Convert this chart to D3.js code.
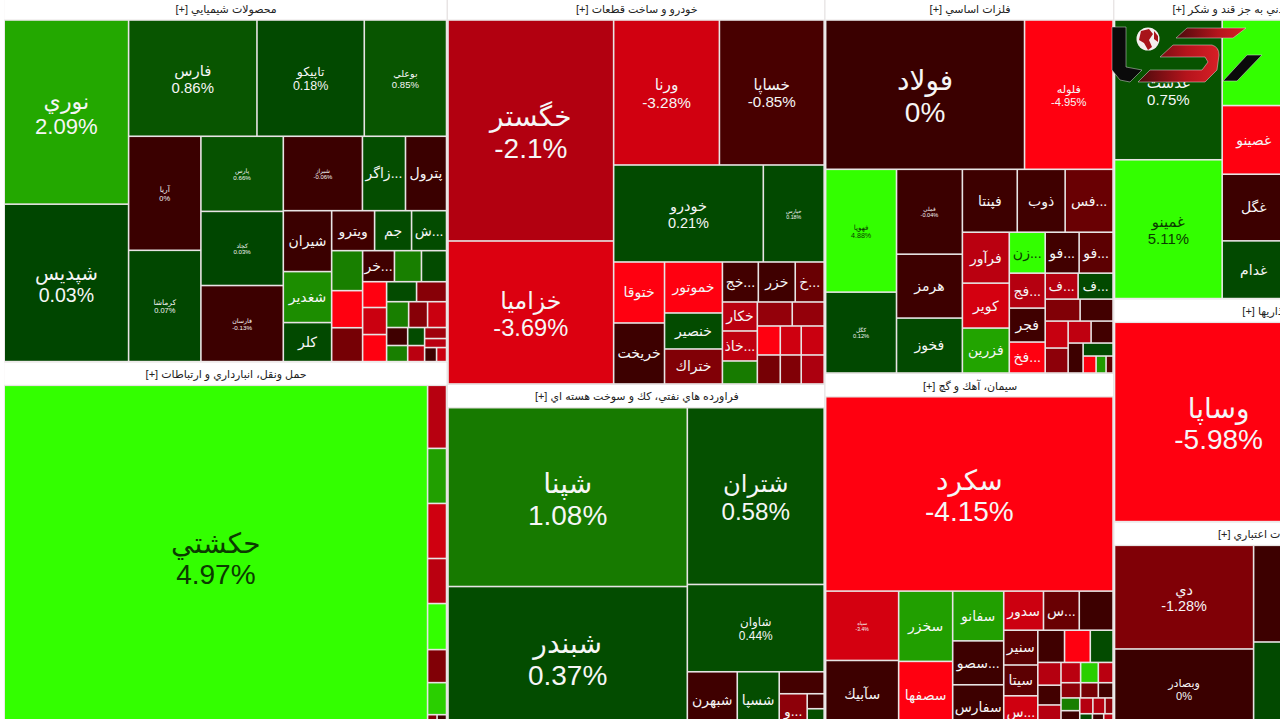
<!DOCTYPE html>
<html>
<head>
<meta charset="utf-8">
<script src="https://cdn.jsdelivr.net/npm/d3@7"></script>
<style>
  html, body { margin: 0; padding: 0; background: #fff; overflow: hidden; }
  text { font-family: "Liberation Sans", "DejaVu Sans", sans-serif; }
</style>
</head>
<body>
<svg id="map"></svg>
<script>
// c = one stock: name, change %, size
const c = (name, pct, value) => ({name, pct, value});

const sectorTitles = [
  "محصولات شيميايي [+]",
  "حمل ونقل، انبارداري و ارتباطات [+]",
  "خودرو و ساخت قطعات [+]",
  "فراورده هاي نفتي، كك و سوخت هسته اي [+]",
  "فلزات اساسي [+]",
  "سيمان، آهك و گچ [+]",
  "محصولات غذايي و آشاميدني به جز قند و شكر [+]",
  "سرمايه گذاريها [+]",
  "بانكها و موسسات اعتباري [+]"
];

// which sectors stand in which column of the map
const columnSectors = [[0, 1], [2, 3], [4, 5], [6, 7, 8]];

// nested lists split across, then down, then across...
const chemicals = [
  [c("نوري", 2.09, 22950), c("شپديس", 0.03, 19620)],
  [
    [c("فارس", 0.86, 14950), c("تاپيكو", 0.18, 12500), c("بوعلي", 0.85, 9580)],
    [
      [c("آريا", 0, 8260), c("كرماشا", 0.07, 8060)],
      [c("پارس", 0.66, 6200), c("كچاد", 0.03, 6120), c("فارسان", -0.13, 6280)],
      [
        [c("شيراز", -0.06, 5900), c("زاگر...", 0.4, 3210), c("پترول", 0, 3060)],
        [
          [c("شيران", 0, 2950), c("شغدير", 1.5, 2470), c("كلر", 0.2, 1890)],
          [
            [c("ويترو", -0.3, 1720), c("جم", 0.3, 1480), c("ش...", 0.3, 1400)],
            [
              [c("", 1.2, 1240), c("", -4.6, 1150), c("", -1.2, 1050)],
              [
                [c("خر...", -0.3, 990), c("", 1.2, 840), c("", 0.3, 780)],
                [
                  [c("", -4.6, 620), c("", -3, 650), c("", -4.6, 650)],
                  [
                    [c("", 0.3, 600), c("", -1.4, 600)],
                    [c("", 1.2, 570), c("", -1.4, 490), c("", -3, 490)],
                    [
                      [c("", -0.3, 380), c("", 1.2, 340)],
                      [c("", 0.3, 306), c("", -2.4, 272)],
                      [c("", -1.8, 242), c("", -2.4, 198), [c("", -0.3, 168), c("", -3, 140)]]
                    ]
                  ]
                ]
              ]
            ]
          ]
        ]
      ]
    ]
  ]
];

const transport = [
  c("حكشتي", 4.97, 145650),
  [
    c("", -2.3, 1197), c("", 1.9, 1045), c("", -3.2, 1045), c("", -2.4, 855),
    c("", 4.9, 874), c("", -1.3, 627), c("", 3.3, 608),
    [c("", -1.3, 133), c("", -0.2, 133)]
  ]
];

const automotive = [
  [c("خگستر", -2.1, 36686), c("خزاميا", -3.69, 23738)],
  [
    [c("ورنا", -3.28, 15370), c("خساپا", -0.85, 15225)],
    [c("خودرو", 0.21, 14550), c("خپارس", 0.18, 5917)],
    [
      [c("ختوقا", -4.6, 3111), c("خريخت", -0.2, 3111)],
      [c("خموتور", -4.4, 2958), c("خنصير", 0.3, 2088), c("ختراك", -1.3, 2030)],
      [
        [c("خج...", -0.5, 1440), c("خزر", -0.3, 1480), c("خ...", -1.1, 1160)],
        [
          [c("خكار", -2.4, 1015), c("خاذ...", -2.6, 1050), c("", 1.1, 805)],
          [
            [c("", -1.6, 840), c("", -1.6, 768)],
            [c("", -4.6, 667), c("", -3.2, 609), c("", -3, 667)],
            [c("", -1.2, 667), c("", -1.3, 609), c("", -2, 667)]
          ]
        ]
      ]
    ]
  ]
];

const oilProducts = [
  [c("شپنا", 1.08, 42900), c("شبندر", 0.37, 34100)],
  [
    c("شتران", 0.58, 24250),
    c("شاوان", 0.44, 11980),
    [
      c("شبهرن", -0.3, 2850),
      c("شسپا", 0.4, 2394),
      [c("", -0.6, 990), [c("و...", -1.5, 980), [c("", -0.4, 255), c("", 0.5, 340)]]]
    ]
  ]
];

const metals = [[
  [c("فولاد", 0, 29800), c("فلوله", -4.95, 13261)],
  [
    [c("فهوپا", 4.88, 8733), c("كگل", 0.12, 5751)],
    [c("فملي", -0.04, 5610), c("هرمز", -0.2, 4224), c("فخوز", 0.2, 3630)],
    [
      [c("فپنتا", -0.2, 3465), c("ذوب", -0.3, 3024), c("فس...", -1.1, 3024)],
      [
        [c("فرآور", -2.4, 2397), c("كوير", -3.4, 2115), c("فزرين", 2, 2115)],
        [
          [c("زن...", 4.9, 1476), c("فو...", -0.4, 1394), c("فو...", -1, 1394)],
          [
            [c("فج...", -2.2, 1260), c("فجر", -0.3, 1224), c("فخ...", -4.6, 1116)],
            [
              [c("ف...", -2.2, 858), c("ف...", 0.2, 910)],
              [c("", -1.3, 770), c("", -0.5, 726)],
              [
                [c("", -2.9, 621), c("", -1.5, 575)],
                [
                  [c("", -2.6, 506), c("", -0.5, 484)],
                  [c("", -0.2, 450), [c("", 0.2, 390), [c("", -4.6, 221), c("", 1.8, 170), c("", -1, 119)]]]
                ]
              ]
            ]
          ]
        ]
      ]
    ]
  ]
]];

const cement = [[
  c("سكرد", -4.15, 56066),
  [
    [c("سپاه", -3.4, 5080), c("سآبيك", -0.2, 5000)],
    [c("سخزر", 1.9, 3810), c("سصفها", -4.6, 3650)],
    [c("سفانو", 1.9, 2550), c("سصو...", -0.2, 2250), c("سفارس", -0.2, 2250)],
    [
      [c("سدور", -3.1, 1560), c("س...", -1.1, 1404), c("", -0.2, 1326)],
      [
        [c("سنير", -1, 1190), c("سيتا", -1, 1054), c("س...", -3.2, 1125)],
        [
          [c("", -0.3, 864), c("", -4.6, 832), c("", 0.3, 736)],
          [
            [c("", -2.2, 529), c("", -0.5, 460), c("", -2.2, 552)],
            [
              [c("", -2.4, 400), c("", 3.3, 360), c("", -2.4, 300)],
              [c("", -1.5, 300), c("", -1.2, 270), c("", -0.4, 225)],
              [
                [c("", 1.2, 240), c("", -0.2, 340)],
                [
                  [c("", -2.2, 208), c("", -2.2, 192), c("", -1.5, 128)],
                  [c("", 0.2, 190), c("", -0.2, 170), c("", -2.2, 140)]
                ]
              ]
            ]
          ]
        ]
      ]
    ]
  ]
]];

const food = [
  [c("غدشت", 0.75, 15087), c("غمينو", 5.11, 14980)],
  [c("", 4.9, 5418), c("غصينو", -4.6, 4347), c("غگل", -0.1, 4221), c("غدام", 0.2, 3654)],
  [c("", 0, 46480)]
];

const investment = [c("وساپا", -5.98, 41600), c("", 0, 25800)];

const credit = [
  [c("دي", -1.28, 14456), c("وبصادر", 0, 11120)],
  [c("", -0.2, 9700), c("", 0.2, 8700)],
  [c("", 0, 18032)]
];

const sectorLists = [chemicals, transport, automotive, oilProducts, metals, cement, food, investment, credit];

const changeTicks = [-4.15, -3.7, -2.1, -1.28, -0.85, 0, 0.01, 0.9, 1.08, 2.09, 4.8];
const changeColors = ["#ff0010", "#dc0010", "#b20010", "#800006", "#480000", "#3a0000",
                      "#004600", "#085600", "#177a00", "#23a800", "#33ff00"];

const width = 1280, height = 719;
const originX = 4.2, originY = -3.7, mapW = 1449, mapH = 732.4;
const headH = 23.7;

const color = d3.scaleLinear().domain(changeTicks).range(changeColors).clamp(true);

// root splits by width, columns share height after taking off the sector headers,
// below that it is plain dice / slice
function tile(node, x0, y0, x1, y1) {
  if (node.depth === 0) {
    const weights = node.children.map(k => k.value / (y1 - y0 - headH * k.children.length));
    const total = d3.sum(weights);
    let x = x0;
    node.children.forEach((k, i) => {
      k.x0 = x; x += (x1 - x0) * weights[i] / total; k.x1 = x;
      k.y0 = y0; k.y1 = y1;
    });
  } else if (node.depth === 1) {
    const free = y1 - y0 - headH * node.children.length;
    let y = y0;
    node.children.forEach(k => {
      k.y0 = y; y += headH + free * k.value / node.value; k.y1 = y;
      k.x0 = x0; k.x1 = x1;
    });
  } else if (node.depth % 2 === 0) {
    d3.treemapDice(node, x0, y0, x1, y1);
  } else {
    d3.treemapSlice(node, x0, y0, x1, y1);
  }
}

const tree = {
  children: columnSectors.map(ids => ({
    children: ids.map(i => ({title: sectorTitles[i], children: sectorLists[i]}))
  }))
};

const root = d3.hierarchy(tree, d => Array.isArray(d) ? d : d.children)
  .sum(d => d.value || 0);

d3.treemap()
  .size([mapW, mapH])
  .tile(tile)
  .round(false)
  .paddingTop(d => d.depth === 2 ? headH : 0)
  .paddingRight(d => d.depth === 2 ? 1.5 : 0)(root);

const svg = d3.select("#map").attr("width", width).attr("height", height)
  .style("display", "block");

const g = svg.append("g").attr("transform", `translate(${originX},${originY})`);

const sectors = root.descendants().filter(d => d.depth === 2);

g.selectAll("rect.sector").data(sectors).enter().append("rect")
  .attr("class", "sector")
  .attr("x", d => d.x0).attr("y", d => d.y0)
  .attr("width", d => d.x1 - d.x0).attr("height", d => d.y1 - d.y0)
  .attr("fill", "#e8e4e4");

g.selectAll("rect.head").data(sectors).enter().append("rect")
  .attr("class", "head")
  .attr("x", d => d.x0).attr("y", d => d.y0 + 1)
  .attr("width", d => d.x1 - d.x0 - 1.5).attr("height", headH - 1.5)
  .attr("fill", "#fff");

g.selectAll("text.title").data(sectors).enter().append("text")
  .attr("class", "title")
  .attr("x", d => (d.x0 + d.x1) / 2).attr("y", d => d.y0 + 16.5)
  .attr("text-anchor", "middle")
  .style("direction", "rtl")
  .style("font-size", "11px")
  .attr("fill", "#222")
  .text(d => d.data.title);

const leaves = g.selectAll("g.leaf").data(root.leaves()).enter().append("g")
  .attr("class", "leaf");

leaves.append("rect")
  .attr("x", d => d.x0 + 0.8).attr("y", d => d.y0 + 0.8)
  .attr("width", d => Math.max(0, d.x1 - d.x0 - 1.6))
  .attr("height", d => Math.max(0, d.y1 - d.y0 - 1.6))
  .attr("fill", d => color(d.data.pct));

// big cells get name and change, font follows the area; small ones only the name
function fontSize(d) {
  const w = d.x1 - d.x0, h = d.y1 - d.y0;
  return Math.min(28, w * h / 1000, w * w / 700);
}
const hasChange = d => (d.x1 - d.x0) * (d.y1 - d.y0) >= 5040;
const inkColor = d => d.data.pct >= 4 ? "#0b3b00" : "#f6f6f6";

leaves.filter(d => d.data.name).append("text")
  .attr("x", d => (d.x0 + d.x1) / 2)
  .attr("y", d => (d.y0 + d.y1) / 2)
  .attr("text-anchor", "middle")
  .attr("dy", d => hasChange(d) ? "-0.15em" : "0.35em")
  .style("font-size", d => (hasChange(d) ? fontSize(d) : 14) + "px")
  .attr("fill", inkColor)
  .text(d => d.data.name);

leaves.filter(d => d.data.name && hasChange(d)).append("text")
  .attr("x", d => (d.x0 + d.x1) / 2)
  .attr("y", d => (d.y0 + d.y1) / 2)
  .attr("text-anchor", "middle")
  .attr("dy", "0.98em")
  .style("font-size", d => fontSize(d) + "px")
  .attr("fill", inkColor)
  .text(d => d.data.pct + "%");

// site logo sitting over the map
const defs = svg.append("defs");
const grad = defs.append("linearGradient").attr("id", "logoRed");
grad.append("stop").attr("offset", "0%").attr("stop-color", "#4a0a0c");
grad.append("stop").attr("offset", "60%").attr("stop-color", "#b5141c");
grad.append("stop").attr("offset", "100%").attr("stop-color", "#d81f26");

const logo = svg.append("g").attr("class", "logo");
logo.append("path").attr("fill", "#0a0a0a").attr("stroke", "#ddd").attr("stroke-width", 0.5)
  .attr("d", "M1112,27L1126,27L1126,67L1142,70L1130,82L1120,80L1112,70Z");
logo.append("path").attr("fill", "#0a0a0a").attr("stroke", "#ddd").attr("stroke-width", 0.5)
  .attr("d", "M1223,81L1247,55L1262,55L1237,81Z");
logo.append("path").attr("fill", "url(#logoRed)").attr("stroke", "#ddd").attr("stroke-width", 0.5)
  .attr("d", "M1187,28L1246,28L1233,38L1176,38Z");
logo.append("path").attr("fill", "url(#logoRed)").attr("stroke", "#ddd").attr("stroke-width", 0.5)
  .attr("d", "M1173,45L1212,45Q1219,47 1219,55L1217,70L1205,82L1138,82L1150,70L1202,70L1208,62L1205,57L1160,57Z");
logo.append("circle").attr("cx", 1148).attr("cy", 39).attr("r", 11.5).attr("fill", "#f4eeee");
logo.append("path").attr("fill", "#a8141a")
  .attr("d", "M1141,31L1149,29L1153,34L1149,40L1152,47L1148,50L1144,43L1139,40Z");
logo.append("path").attr("fill", "#a8141a")
  .attr("d", "M1154,31L1158,36L1158,42L1154,39Z");
</script>
</body>
</html>
